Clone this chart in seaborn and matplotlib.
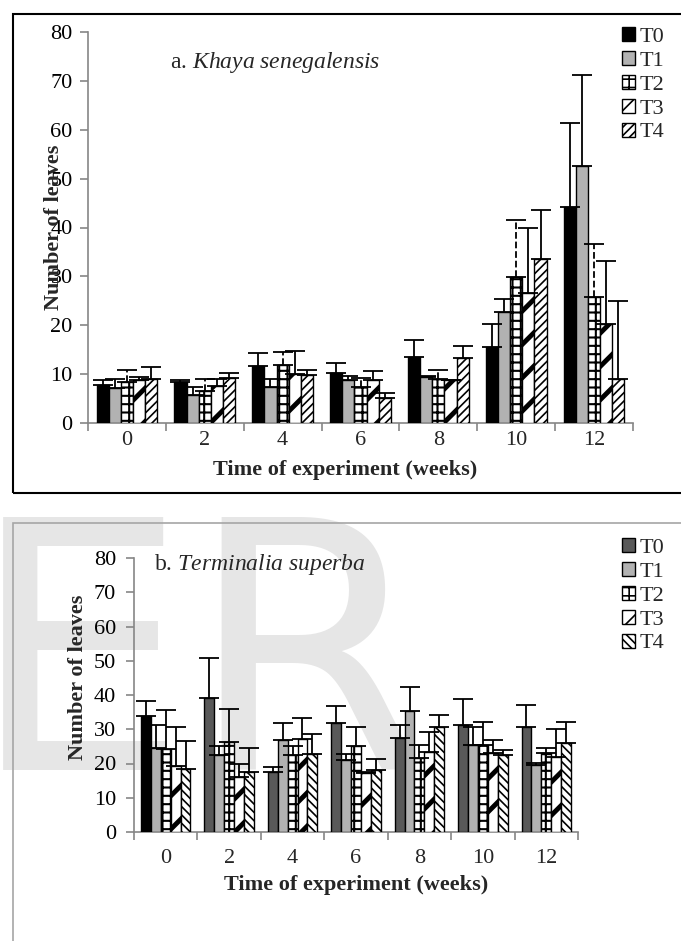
import numpy as np
import pandas as pd
import matplotlib
matplotlib.use("Agg")
import matplotlib.pyplot as plt
import seaborn as sns
from matplotlib.patches import Patch, Rectangle

# ---------------- data ----------------
weeks = ["0", "2", "4", "6", "8", "10", "12"]
treatments = ["T0", "T1", "T2", "T3", "T4"]

# a. Khaya senegalensis (means and upper error)
khaya_T0 = [7.7, 8.4, 11.7, 10.2, 13.6, 15.5, 44.2]
khaya_T1 = [7.1, 5.7, 7.4, 8.9, 9.5, 22.8, 52.6]
khaya_T2 = [8.4, 6.6, 11.9, 7.3, 9.1, 29.9, 25.7]
khaya_T3 = [8.8, 7.6, 10.0, 8.8, 8.7, 26.7, 20.2]
khaya_T4 = [9.0, 9.3, 9.8, 5.2, 13.4, 33.5, 9.0]
khaya_err_T0 = [1.1, 0.4, 2.7, 2.1, 3.4, 4.7, 17.1]
khaya_err_T1 = [1.9, 1.7, 1.7, 0.8, 0.2, 2.6, 18.6]
khaya_err_T2 = [2.4, 2.4, 2.6, 2.0, 1.7, 11.6, 10.9]
khaya_err_T3 = [0.7, 1.4, 4.8, 1.9, 0.2, 13.1, 12.9]
khaya_err_T4 = [2.4, 1.0, 1.1, 0.9, 2.4, 10.1, 16.0]

# b. Terminalia superba
term_T0 = [34.0, 39.2, 17.5, 31.7, 27.4, 31.2, 30.8]
term_T1 = [24.5, 22.5, 26.8, 21.0, 35.3, 25.4, 19.5]
term_T2 = [24.2, 26.3, 22.5, 25.2, 21.6, 25.5, 23.0]
term_T3 = [19.4, 16.0, 27.2, 17.2, 23.3, 23.0, 22.0]
term_T4 = [18.5, 17.5, 22.9, 18.2, 30.7, 22.5, 26.0]
term_err_T0 = [4.3, 11.5, 1.5, 5.2, 3.7, 7.6, 6.3]
term_err_T1 = [6.8, 2.6, 4.9, 1.8, 7.0, 5.4, 0.7]
term_err_T2 = [11.4, 9.7, 2.5, 5.6, 3.7, 6.7, 1.5]
term_err_T3 = [11.4, 3.8, 6.2, 0.3, 5.9, 4.0, 8.0]
term_err_T4 = [8.0, 7.0, 5.8, 3.1, 3.5, 1.5, 6.0]

y_ticks = [0, 10, 20, 30, 40, 50, 60, 70, 80]

# ---------------- style ----------------
sns.set_theme(style="white")
plt.rcParams["font.family"] = ["Liberation Serif", "DejaVu Serif"]
plt.rcParams["mathtext.fontset"] = "custom"
plt.rcParams["mathtext.rm"] = "Liberation Serif"
plt.rcParams["mathtext.it"] = "Liberation Serif:italic"
plt.rcParams["hatch.linewidth"] = 1.2

W, H = 681, 941
fig = plt.figure(figsize=(W / 100, H / 100), dpi=100)
fig.patch.set_facecolor("white")

# watermark (behind everything)
fig.text(-0.045, 1 - 770 / H, "ER", fontsize=250, color="#e6e6e6",
         family="DejaVu Sans", va="baseline", ha="left", zorder=-10)

# frames
fig.patches.append(Rectangle((13 / W, 1 - 493 / H), 1.2, (493 - 14) / H,
                             transform=fig.transFigure, fill=False,
                             ec="black", lw=1.5, zorder=-5))
fig.patches.append(Rectangle((13 / W, -0.2), 1.2, (1 - 523 / H) + 0.2,
                             transform=fig.transFigure, fill=False,
                             ec="#a6a6a6", lw=1.2, zorder=-5))

GRAY = "#868686"
FS = 16


def to_long(series):
    rows = []
    for t, vals in zip(treatments, series):
        for w, v in zip(weeks, vals):
            rows.append({"week": w, "treatment": t, "value": v})
    return pd.DataFrame(rows)


def style_patch(p, fc, hatch, hlw):
    p.set_facecolor(fc)
    p.set_edgecolor("black")
    if hatch:
        p.set_hatch(hatch)
        if hlw is not None:
            try:
                p.set_hatch_linewidth(hlw)
            except Exception:
                pass


def draw(ax, series, errs, styles, dashed_t2):
    df = to_long(series)
    sns.barplot(data=df, x="week", y="value", hue="treatment", order=weeks,
                hue_order=treatments, width=0.78, errorbar=None,
                palette=[s[0] for s in styles], edgecolor="black",
                linewidth=1.0, legend=False, ax=ax, gap=0, zorder=3)
    for ci, (cont, (fc, hatch, hlw, _lh)) in enumerate(zip(ax.containers, styles)):
        for i, p in enumerate(cont.patches):
            style_patch(p, fc, hatch, hlw)
            xc = p.get_x() + p.get_width() / 2
            h = p.get_height()
            eb = ax.errorbar(xc, h, yerr=[[0], [errs[ci][i]]], fmt="none",
                             ecolor="black", elinewidth=1.3, capsize=7,
                             capthick=1.3, zorder=4)
            if dashed_t2 and ci == 2:
                for ln in eb[2]:
                    ln.set_linestyle("--")
                for cap in eb[1]:
                    cap.set_linestyle("--")
    ax.set_xlim(-0.5, 6.5)
    ax.set_ylim(0, 80)
    ax.set_facecolor("none")
    ax.set_zorder(2)
    for s in ["top", "right"]:
        ax.spines[s].set_visible(False)
    for s in ["left", "bottom"]:
        ax.spines[s].set_color(GRAY)
        ax.spines[s].set_linewidth(1.2)
    ax.set_yticks(y_ticks)
    ax.set_yticklabels([str(v) for v in y_ticks], fontsize=FS)
    ax.set_xticks(np.arange(-0.5, 7, 1))
    ax.set_xticklabels([])
    ax.set_xticks(range(7), minor=True)
    ax.set_xticklabels(weeks, minor=True, fontsize=FS)
    ax.tick_params(axis="y", direction="out", length=6, width=1.2,
                   color=GRAY, labelcolor="black", left=True)
    ax.tick_params(axis="x", which="major", direction="out", length=6,
                   width=1.2, color=GRAY, bottom=True)
    ax.set_xlabel("")
    ax.set_ylabel("")


def legend(styles, x, y):
    handles = []
    for fc, h, hlw, lh in styles:
        p = Patch(facecolor=fc, edgecolor="black", hatch=lh, lw=1.0)
        if lh and hlw is not None:
            try:
                p.set_hatch_linewidth(min(hlw, 2.5))
            except Exception:
                pass
        handles.append(p)
    fig.legend(handles, treatments, loc="upper left",
               bbox_to_anchor=(x, y), frameon=False, fontsize=FS,
               handlelength=0.6, handleheight=0.6, handletextpad=0.2,
               labelspacing=0.18, borderpad=0, borderaxespad=0)


# (face colour, bar hatch, hatch line width, legend hatch)
styles_a = [("black", None, None, None), ("#b2b2b2", None, None, None),
            ("white", "++", 1.5, "++"), ("white", "/", 3.5, "//"),
            ("white", "////", 1.2, "////")]
styles_b = [("#595959", None, None, None), ("#b2b2b2", None, None, None),
            ("white", "++", 1.5, "++"), ("white", "/", 3.5, "//"),
            ("white", "\\\\\\\\", 1.2, "\\\\\\\\")]

# ---- panel a ----
ax1 = fig.add_axes([88 / W, 1 - 423 / H, 545 / W, 391 / H])
draw(ax1, [khaya_T0, khaya_T1, khaya_T2, khaya_T3, khaya_T4],
     [khaya_err_T0, khaya_err_T1, khaya_err_T2, khaya_err_T3, khaya_err_T4],
     styles_a, True)
ax1.tick_params(axis="y", pad=5)
ax1.tick_params(axis="x", which="minor", length=0, pad=6)
ax1.text(0.15, 0.923, r"a. $\it{Khaya\ senegalensis}$", transform=ax1.transAxes,
         fontsize=17, va="center", ha="left")
fig.text(345 / W, 1 - 470 / H, "Time of experiment (weeks)", fontsize=FS,
         fontweight="bold", ha="center", va="center", zorder=5)
ax1.text(-0.062, 0.5, "Number of leaves", transform=ax1.transAxes,
         fontsize=FS, fontweight="bold", rotation=90, ha="center", va="center")
legend(styles_a, 622 / W, 1 - 27 / H)

# ---- panel b ----
ax2 = fig.add_axes([134 / W, 1 - 832 / H, 444 / W, 274 / H])
draw(ax2, [term_T0, term_T1, term_T2, term_T3, term_T4],
     [term_err_T0, term_err_T1, term_err_T2, term_err_T3, term_err_T4],
     styles_b, False)
ax2.containers[0].patches[0].set_facecolor("black")
ax2.tick_params(axis="y", pad=7)
ax2.tick_params(axis="x", which="minor", length=0, pad=12)
ax2.text(0.045, 0.975, r"b. $\it{Terminalia\ superba}$", transform=ax2.transAxes,
         fontsize=17, va="center", ha="left")
fig.text(356 / W, 1 - 885 / H, "Time of experiment (weeks)", fontsize=FS,
         fontweight="bold", ha="center", va="center", zorder=5)
ax2.text(-0.126, 0.566, "Number of leaves", transform=ax2.transAxes,
         fontsize=FS, fontweight="bold", rotation=90, ha="center", va="center")
legend(styles_b, 622 / W, 1 - 538 / H)

fig.savefig("out.png", dpi=100, facecolor="white")
